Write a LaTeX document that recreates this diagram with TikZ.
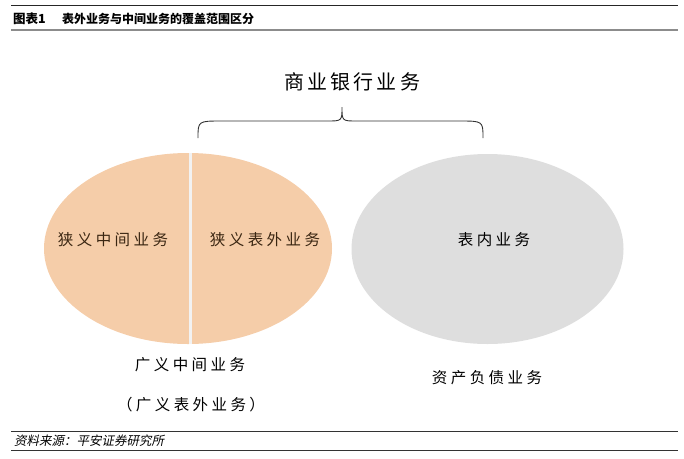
\documentclass[tikz,border=0pt]{standalone}
\usepackage{fontspec}
\usetikzlibrary{shapes.geometric}
\newfontfamily\cjk{Noto Sans CJK SC}
\newfontfamily\cjkwide[LetterSpace=22]{Noto Sans CJK SC}
\newfontfamily\cjkbig[LetterSpace=16]{Noto Sans CJK SC}
\newfontfamily\cjkslant[FakeSlant=0.2]{Noto Sans CJK SC}
\definecolor{peach}{HTML}{F5CDA9}
\definecolor{greyfill}{HTML}{DEDEDE}
\definecolor{brown}{HTML}{3A2612}

\begin{document}
\begin{tikzpicture}[x=1pt,y=-1pt,
  oval/.style={ellipse,draw=none,inner sep=0pt},
  tag/.style={inner sep=0pt,font=\fontsize{15.5}{18.6}\selectfont\cjkwide}]
\path[use as bounding box] (0,0) rectangle (684.0,458.0);
% header
\draw[line width=1.3pt,color=black!85] (11,5.5) -- (678,5.5);
\node[anchor=base west,inner sep=0pt,font=\fontsize{12.5}{15}\selectfont\cjk\bfseries] (fignum) at (13,23) {图表1};
\node[anchor=base west,inner sep=0pt,font=\fontsize{12}{14.4}\selectfont\cjk\bfseries] (title) at (62,23) {表外业务与中间业务的覆盖范围区分};
\draw[line width=2pt,color=black!45] (11,29.5) -- (678,29.5);
% ovals
\node[oval,fill=peach,minimum width=288,minimum height=191] (wide) at (188,248.5) {};
\node[oval,fill=greyfill,minimum width=272,minimum height=190] (onbal) at (487.5,249) {};
\draw[line width=3.5pt,color=black!5] ([xshift=2.7]wide.north) -- ([xshift=2.7]wide.south);
\node[tag,text=brown] (narmid) at (113,240) {狭义中间业务};
\node[tag,text=brown] (naroff) at (265,240) {狭义表外业务};
\node[tag] (onbs) at (494,240) {表内业务};
% brace
\node[inner sep=0pt,font=\fontsize{20}{24}\selectfont\cjkbig] (bank) at (352,82) {商业银行业务};
\coordinate (bl) at (198,138);
\coordinate (br) at (483,138);
\coordinate (tip) at (342,107);
\draw[line width=0.9pt,color=black!80] (bl) .. controls (198,121) .. (222,121) -- (327,121)
  .. controls (342,121) .. (tip) .. controls (342,121) .. (357,121) -- (459,121)
  .. controls (483,121) .. (br);
% captions
\node[tag] (widemid) at (190,365) {广义中间业务};
\node[tag] (wideoff) at (191,405) {（广义表外业务）};
\node[tag] (alm) at (487,378) {资产负债业务};
% footer
\draw[line width=1pt,color=black!80] (11,431.5) -- (678,431.5);
\node[anchor=base west,inner sep=0pt,font=\fontsize{12.5}{15}\selectfont\cjkslant] (src) at (14,445) {资料来源：平安证券研究所};
\draw[line width=1.2pt,color=black!80] (11,450.5) -- (678,450.5);
\end{tikzpicture}
\end{document}
